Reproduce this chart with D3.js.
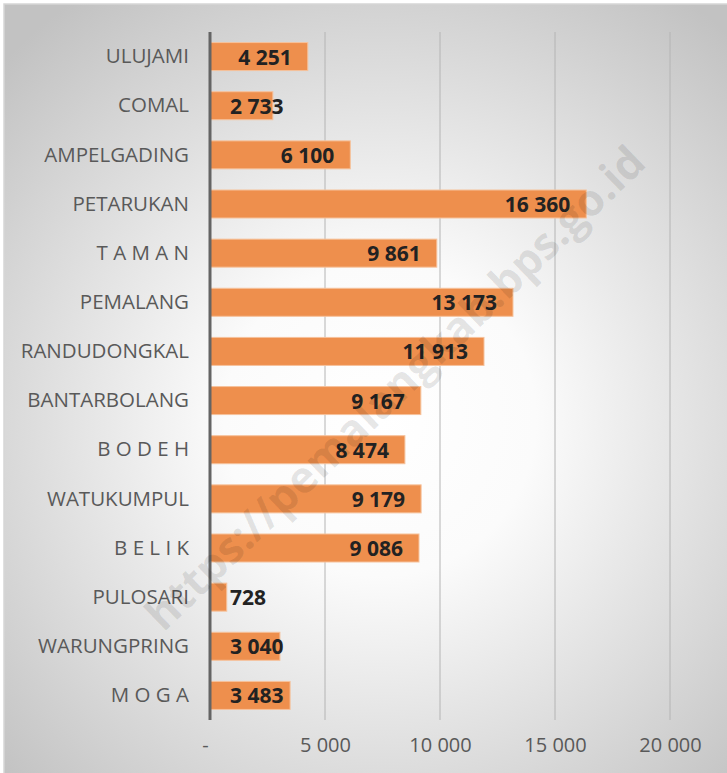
<!DOCTYPE html>
<html><head><meta charset="utf-8">
<script src="https://cdn.jsdelivr.net/npm/d3@7"></script>
<style>body{margin:0;background:#fff}svg{display:block}</style>
</head><body>
<svg id="c" width="727" height="773"></svg>
<script>
const categories = ["ULUJAMI","COMAL","AMPELGADING","PETARUKAN","T A M A N","PEMALANG","RANDUDONGKAL","BANTARBOLANG","B O D E H","WATUKUMPUL","B E L I K","PULOSARI","WARUNGPRING","M O G A"];
const values = [4251,2733,6100,16360,9861,13173,11913,9167,8474,9179,9086,728,3040,3483];
const tickValues = [0,5000,10000,15000,20000];
const tickLabels = ["-","5 000","10 000","15 000","20 000"];
const watermark = "https://pemalangkab.bps.go.id";

const svg = d3.select("#c");
const defs = svg.append("defs");
const rg = defs.append("radialGradient").attr("id","bg")
  .attr("gradientUnits","userSpaceOnUse").attr("cx",380).attr("cy",420).attr("r",520);
rg.append("stop").attr("offset","0").attr("stop-color","#ffffff");
rg.append("stop").attr("offset","0.3").attr("stop-color","#fbfbfb");
rg.append("stop").attr("offset","1").attr("stop-color","#c2c2c2");

svg.append("rect").attr("x",4).attr("y",4).attr("width",730).attr("height",780)
  .attr("fill","url(#bg)").attr("stroke","#d6d6d6").attr("stroke-width",1.5);

const x = d3.scaleLinear().domain([0,20000]).range([210,670]);
const y = d3.scaleBand().domain(categories).range([32,720]).paddingInner(0.43).paddingOuter(0.215);

svg.append("g").selectAll("line").data(tickValues.slice(1)).join("line")
  .attr("x1",d=>x(d)).attr("x2",d=>x(d)).attr("y1",32).attr("y2",720)
  .attr("stroke","#b4b4b4").attr("stroke-width",1);

svg.append("g").selectAll("rect").data(values).join("rect")
  .attr("x",x(0)).attr("y",(d,i)=>y(categories[i]))
  .attr("width",d=>x(d)-x(0)).attr("height",y.bandwidth())
  .attr("fill","#ee8f4d").attr("stroke","#f6c29c").attr("stroke-width",1);

svg.append("line").attr("x1",x(0)).attr("x2",x(0)).attr("y1",32).attr("y2",720)
  .attr("stroke","#646464").attr("stroke-width",3);

const xAxis = d3.axisBottom(x).tickValues(tickValues).tickSize(0).tickPadding(0)
  .tickFormat((d,i)=>tickLabels[i]);
const gx = svg.append("g").attr("transform","translate(0,738)").call(xAxis);
gx.select(".domain").remove();
gx.selectAll("text").attr("font-family","'Open Sans',sans-serif").attr("font-size",20)
  .attr("fill","#595959").attr("dy","0.71em");
gx.selectAll(".tick").filter(d=>d===0).select("text").attr("dx",-5);

const yAxis = d3.axisLeft(y).tickSize(0).tickPadding(0);
const gy = svg.append("g").attr("transform","translate(189,0)").call(yAxis);
gy.select(".domain").remove();
gy.selectAll("text").attr("font-family","'Open Sans',sans-serif").attr("font-size",20.5)
  .attr("fill","#595959").attr("dy","0.33em");

const fmt = v => d3.format(",")(v).replace(/,/g," ");
const vl = svg.append("g").selectAll("text").data(values).join("text")
  .attr("y",(d,i)=>y(categories[i])+y.bandwidth()/2)
  .attr("dy","0.38em")
  .attr("font-family","'Open Sans',sans-serif").attr("font-weight",700).attr("font-size",21)
  .attr("fill","#222").text(d=>fmt(d));
vl.each(function(d){
  const w = this.getComputedTextLength();
  const xs = Math.max(x(0)+20, x(d)-16-w);
  d3.select(this).attr("x",xs);
});

svg.append("text").attr("transform","translate(395,388) rotate(-44)")
  .attr("text-anchor","middle").attr("dy","0.35em")
  .attr("font-family","'Open Sans',sans-serif").attr("font-weight",700).attr("font-size",44)
  .attr("fill","#000").attr("fill-opacity",0.1).text(watermark);
</script>
</body></html>
